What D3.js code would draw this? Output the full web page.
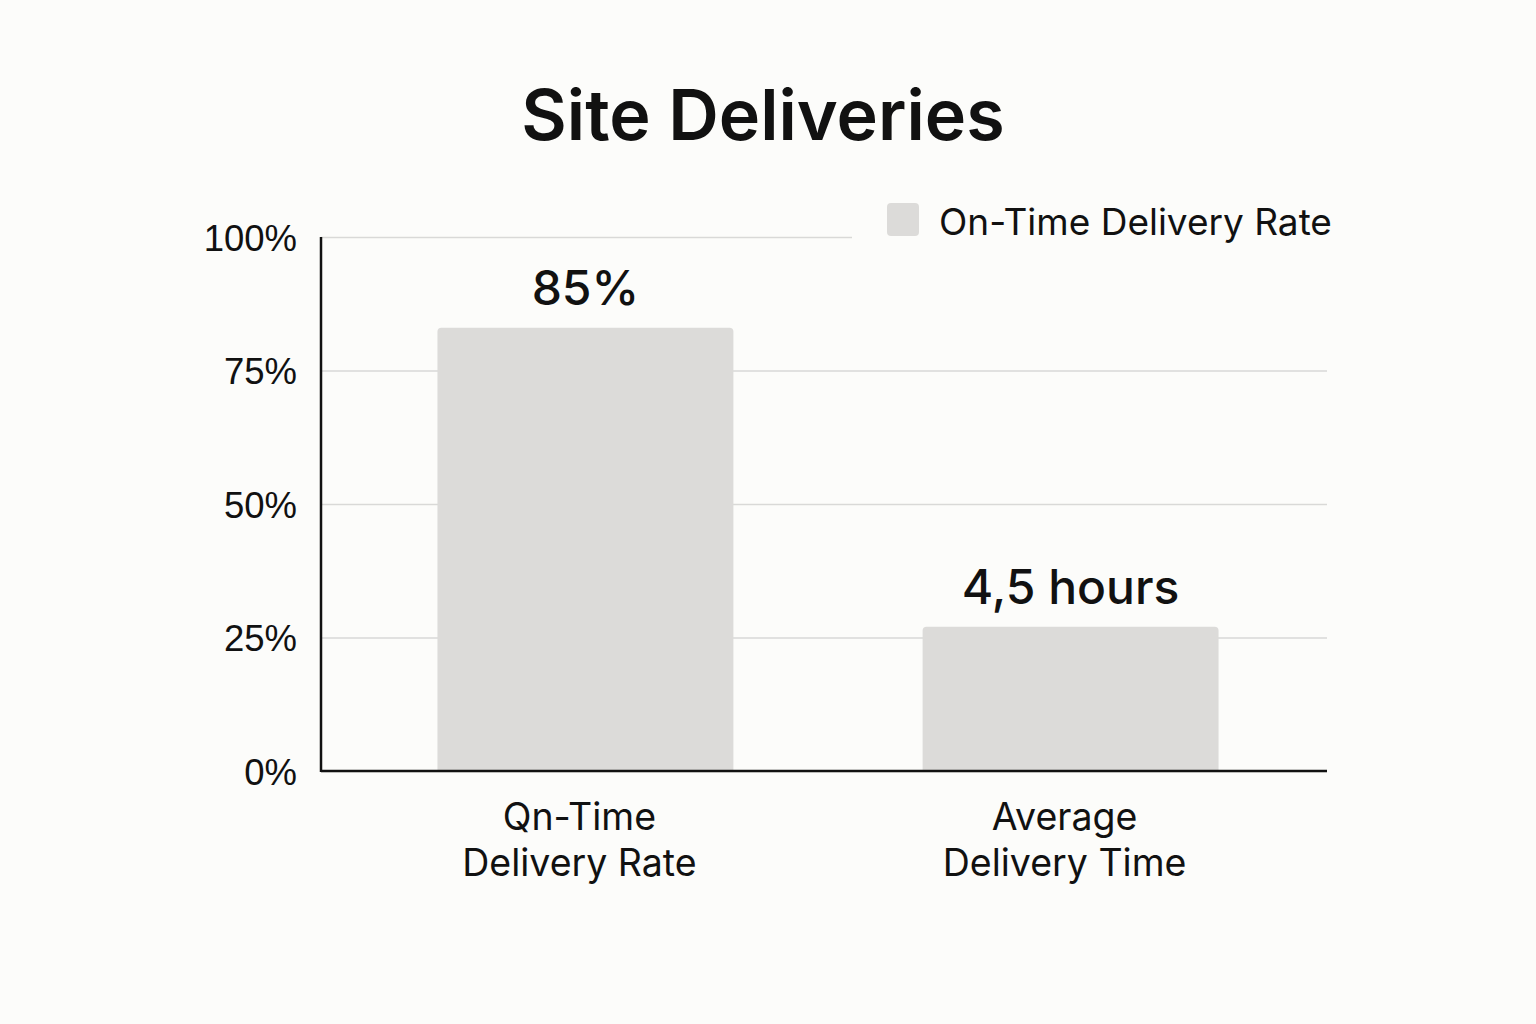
<!DOCTYPE html>
<html>
<head>
<meta charset="utf-8">
<script src="https://cdn.jsdelivr.net/npm/d3@7"></script>
<style>
  html, body { margin: 0; padding: 0; background: #fcfcfa; }
  svg { display: block; font-family: Inter, "Noto Sans", sans-serif; }
</style>
</head>
<body>
<svg id="chart" width="1536" height="1024"></svg>
<script>
const categories = [["Qn-Time", "Delivery Rate"], ["Average", "Delivery Time"]];
const barValues = [83, 27];
const valueLabels = ["85%", "4,5 hours"];
const yTicks = [0, 25, 50, 75, 100];
const legendLabel = "On-Time Delivery Rate";
const title = "Site Deliveries";

let svg = d3.select("#chart");
let margin = { top: 237, bottom: 253, left: 321, right: 209 };
let width = 1536, height = 1024;
let plotRight = width - margin.right;
let plotBottom = height - margin.bottom;

let xAxis = d3
  .scaleBand()
  .domain(categories.map((d, i) => i))
  .range([margin.left, plotRight + 8])
  .paddingInner(0.39)
  .paddingOuter(0.24);

let yAxis = d3
  .scaleLinear()
  .domain([0, 100])
  .range([plotBottom, margin.top]);

// title
svg
  .append("text")
  .attr("x", 763)
  .attr("y", 140)
  .attr("text-anchor", "middle")
  .attr("font-size", 70)
  .attr("font-weight", 600)
  .attr("fill", "#111")
  .text(title);

// gridlines + tick labels
let grid = svg
  .append("g")
  .attr("transform", `translate(${margin.left},0)`)
  .call(
    d3
      .axisLeft(yAxis)
      .tickValues(yTicks)
      .tickSize(-(plotRight - margin.left))
      .tickPadding(24)
      .tickFormat((d) => d + "%")
  );
grid.select(".domain").remove();
grid.selectAll("line").attr("stroke", "#d9d9d7").attr("stroke-width", 1.5);
grid
  .selectAll("text")
  .attr("font-size", 36.5)
  .attr("fill", "#111")
  .attr("dy", "0.36em");

// bars
svg
  .selectAll(".bar")
  .data(barValues)
  .enter()
  .append("path")
  .attr("class", "bar")
  .attr("fill", "#dcdbd9")
  .attr("d", (d, i) => {
    let x0 = xAxis(i), x1 = x0 + xAxis.bandwidth();
    let y0 = yAxis(d), y1 = yAxis(0), r = 4;
    return `M${x0},${y1}V${y0 + r}Q${x0},${y0} ${x0 + r},${y0}H${x1 - r}Q${x1},${y0} ${x1},${y0 + r}V${y1}Z`;
  });

// value labels
svg
  .selectAll(".value")
  .data(barValues)
  .enter()
  .append("text")
  .attr("class", "value")
  .attr("x", (d, i) => xAxis(i) + xAxis.bandwidth() / 2)
  .attr("y", (d) => yAxis(d) - 23)
  .attr("text-anchor", "middle")
  .attr("font-size", 48)
  .attr("font-weight", 500)
  .attr("fill", "#111")
  .text((d, i) => valueLabels[i]);

// axes lines
svg
  .append("line")
  .attr("x1", margin.left)
  .attr("x2", margin.left)
  .attr("y1", yAxis(100))
  .attr("y2", plotBottom + 1)
  .attr("stroke", "#111")
  .attr("stroke-width", 2.5);
svg
  .append("line")
  .attr("x1", margin.left)
  .attr("x2", plotRight)
  .attr("y1", plotBottom)
  .attr("y2", plotBottom)
  .attr("stroke", "#111")
  .attr("stroke-width", 2.5);

// category labels
let catLabels = svg
  .selectAll(".cat")
  .data(categories)
  .enter()
  .append("text")
  .attr("class", "cat")
  .attr("text-anchor", "middle")
  .attr("font-size", 37.5)
  .attr("fill", "#111")
  .attr("y", plotBottom + 59);
catLabels
  .selectAll("tspan")
  .data((d) => d)
  .enter()
  .append("tspan")
  .attr("x", function () {
    let i = categories.indexOf(d3.select(this.parentNode).datum());
    return xAxis(i) + xAxis.bandwidth() / 2 - 6;
  })
  .attr("dy", (d, j) => (j === 0 ? 0 : 46))
  .text((d) => d);

// legend
let legend = svg.append("g").attr("transform", "translate(852,196)");
legend
  .append("rect")
  .attr("width", 500)
  .attr("height", 50)
  .attr("fill", "#fcfcfa");
legend
  .append("rect")
  .attr("x", 35)
  .attr("y", 7)
  .attr("width", 32)
  .attr("height", 33)
  .attr("rx", 4)
  .attr("fill", "#dcdbd9");
legend
  .append("text")
  .attr("x", 87)
  .attr("y", 39)
  .attr("font-size", 37)
  .attr("fill", "#111")
  .text(legendLabel);
</script>
</body>
</html>
